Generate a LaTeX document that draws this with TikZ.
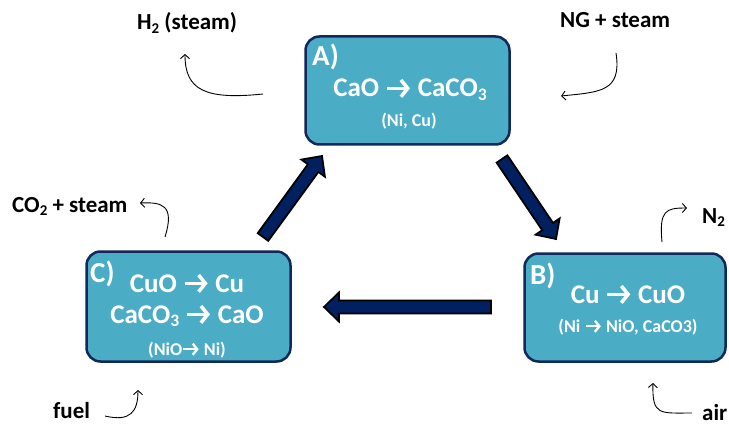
\documentclass[tikz,border=0pt]{standalone}
\usepackage{fontspec}
\setmainfont{Carlito}
\usetikzlibrary{arrows.meta,calc}
\definecolor{boxfill}{HTML}{4BACC6}
\definecolor{boxline}{HTML}{10285A}
\definecolor{navy}{HTML}{002060}
\newcommand\subs[1]{\raisebox{-0.3ex}{\scalebox{0.65}{#1}}}
\newcommand\rarr{\tikz[baseline=0pt]\draw[white,line width=0.13em,-{Straight Barb[length=0.25em,width=0.62em,line width=0.13em]}] (0,0.32em) -- (0.85em,0.32em);}
\newcommand\blockarrow[2]{%
  \coordinate (hb) at ($(#2)!15pt!(#1)$);
  \draw[blk] ($(#1)!6.5pt!90:(#2)$) -- ($(hb)!6.5pt!-90:(#1)$) -- ($(hb)!14.5pt!-90:(#1)$) -- (#2) -- ($(hb)!14.5pt!90:(#1)$) -- ($(hb)!6.5pt!90:(#1)$) -- ($(#1)!6.5pt!-90:(#2)$) -- cycle;}
\begin{document}
\begin{tikzpicture}[x=1pt,y=-1pt,
  box/.style={draw=boxline, line width=2.5pt, fill=boxfill, rounded corners=14pt, inner sep=0},
  wt/.style={text=white, font=\bfseries\fontsize{27}{32}\selectfont, anchor=base, inner sep=0},
  ws/.style={text=white, font=\bfseries\fontsize{18}{21}\selectfont, anchor=base, inner sep=0},
  hd/.style={text=white, font=\bfseries\fontsize{29}{33}\selectfont, anchor=base west, inner sep=0},
  lbl/.style={text=black, font=\bfseries\fontsize{23}{27}\selectfont, anchor=base west, inner sep=0},
  thin/.style={line width=0.9pt, -{Straight Barb[length=4pt,width=9pt]}},
  blk/.style={draw=black, fill=navy, line width=1.8pt, line join=miter}]
\useasboundingbox (0,0) rectangle (729,425);
% boxes
\node[box, minimum width=204pt, minimum height=108pt] (A) at (407.5,90.5) {};
\node[box, minimum width=204pt, minimum height=110pt] (C) at (188.5,306.5) {};
\node[box, minimum width=201pt, minimum height=108pt] (B) at (625,307.5) {};
% box texts
\node[hd] (Ah) at (312,66) {A)};
\node[wt] (Am) at (410,97) {CaO \rarr\ CaCO\subs{3}};
\node[ws] (As) at (409,127) {(Ni, Cu)};
\node[hd] (Bh) at (530,284) {B)};
\node[wt] (Bm) at (628,303) {Cu \rarr\ CuO};
\node[ws] (Bs) at (628,332) {(Ni \rarr\ NiO, CaCO3)};
\node[hd] (Ch) at (90,283) {C)};
\node[wt] (Cm1) at (187,292) {CuO \rarr\ Cu};
\node[wt] (Cm2) at (187,323) {CaCO\subs{3} \rarr\ CaO};
\node[ws] (Cs) at (187,355) {(NiO\rarr\ Ni)};
% labels
\node[lbl] (h2) at (137,30) {H\subs{2} (steam)};
\node[lbl] (ng) at (560,28) {NG + steam};
\node[lbl] (co2) at (12,212) {CO\subs{2} + steam};
\node[lbl] (fuel) at (53,418) {fuel};
\node[lbl] (n2) at (702,223) {N\subs{2}};
\node[lbl] (air) at (702,420) {air};
% block arrows
\coordinate (ca1) at (263,237); \coordinate (ca2) at (322,156);
\coordinate (ab1) at (502,159); \coordinate (ab2) at (556,239);
\coordinate (bc1) at (491,307); \coordinate (bc2) at (324,307);
\blockarrow{ca1}{ca2}
\blockarrow{ab1}{ab2}
\blockarrow{bc1}{bc2}
% thin arrows
\coordinate (h2a) at (263,94); \coordinate (h2b) at (185,54);
\draw[thin] (h2a) .. controls (205,100) and (185,90) .. (h2b);
\coordinate (nga) at (616,53); \coordinate (ngb) at (561,96);
\draw[thin] (nga) .. controls (622,92) and (600,92) .. (ngb);
\coordinate (coa) at (165,237); \coordinate (cob) at (140,203);
\draw[thin] (coa) .. controls (175,205) and (162,202) .. (cob);
\coordinate (fua) at (105,416); \coordinate (fub) at (138,390);
\draw[thin] (fua) .. controls (130,422) and (138,412) .. (fub);
\coordinate (n2a) at (662,242); \coordinate (n2b) at (687,208);
\draw[thin] (n2a) .. controls (659,210) and (666,208) .. (n2b);
\coordinate (aia) at (692,413); \coordinate (aib) at (653,383);
\draw[thin] (aia) .. controls (660,413) and (652,416) .. (aib);
\end{tikzpicture}
\end{document}
